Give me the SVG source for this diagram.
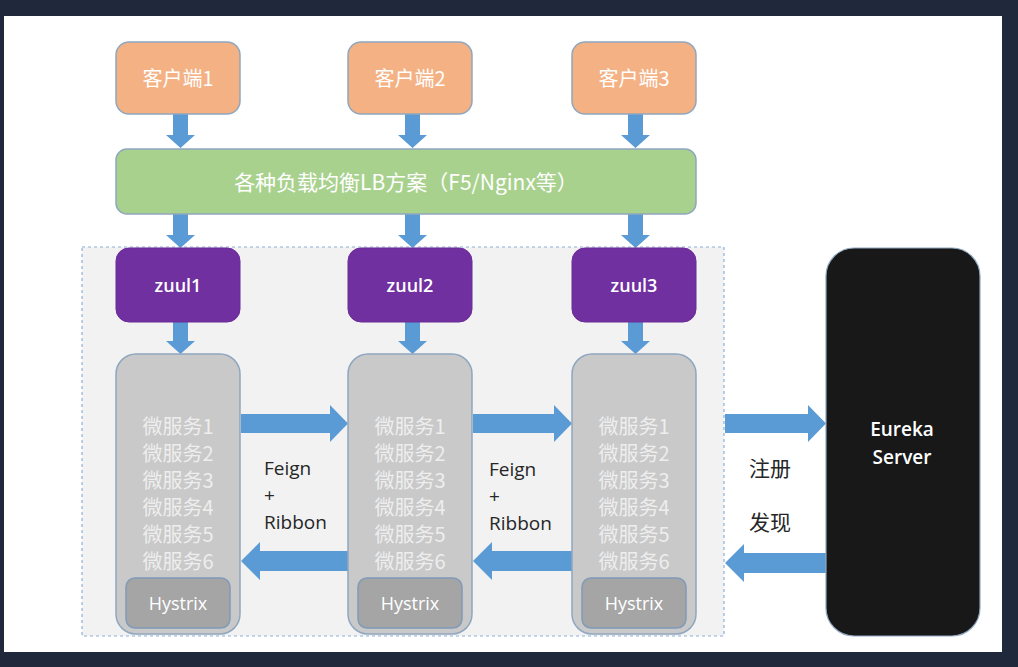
<svg xmlns="http://www.w3.org/2000/svg" width="1018" height="667" viewBox="0 0 1018 667">
<style>
.cjk{font-family:"Noto Sans CJK SC","Liberation Sans",sans-serif;}
.lat{font-family:"Open Sans","Liberation Sans",sans-serif;}
.client rect{fill:#f4b183;stroke:#8fa7bf;stroke-width:1.5;}
.zuul rect{fill:#7030a0;stroke:#6a2c98;stroke-width:1;}
.svc>rect{fill:#c9c9c9;stroke:#8fa7bf;stroke-width:1.5;}
.hys rect{fill:#a5a5a5;stroke:#7f9bb8;stroke-width:1.5;}
.wt{fill:#ffffff;}
.mt{fill:#eeeeee;font-size:20px;}
.arrow{fill:#5b9bd5;}
.dk{fill:#262626;}
</style>
<rect x="0" y="0" width="1018" height="667" fill="#1f293b"/>
<rect x="4" y="16" width="998" height="636" fill="#ffffff"/>
<rect id="cluster" x="82" y="247" width="642" height="389" fill="#f2f2f2" stroke="#8fb0d6" stroke-width="1.2" stroke-dasharray="3,3"/>

<g id="connectors" class="arrow">
  <polygon points="173,114 188,114 188,135 195,135 180.5,148 166,135 173,135"/>
  <polygon points="405,114 420,114 420,135 427,135 412.5,148 398,135 405,135"/>
  <polygon points="628,114 643,114 643,135 650,135 635.5,148 621,135 628,135"/>
  <polygon points="173,214 188,214 188,235 195,235 180.5,248 166,235 173,235"/>
  <polygon points="405,214 420,214 420,235 427,235 412.5,248 398,235 405,235"/>
  <polygon points="628,214 643,214 643,235 650,235 635.5,248 621,235 628,235"/>
  <polygon points="173,322 188,322 188,341 195,341 180.5,354 166,341 173,341"/>
  <polygon points="405,322 420,322 420,341 427,341 412.5,354 398,341 405,341"/>
  <polygon points="628,322 643,322 643,341 650,341 635.5,354 621,341 628,341"/>
  <polygon points="241,414 330,414 330,405 348,423.5 330,442 330,433 241,433"/>
  <polygon points="473,414 554,414 554,405 572,423.5 554,442 554,433 473,433"/>
  <polygon points="725,414 808,414 808,405 826,423.5 808,442 808,433 725,433"/>
  <polygon points="348,551 260,551 260,542 241,561 260,580 260,571 348,571"/>
  <polygon points="572,551 492,551 492,542 473,561 492,580 492,571 572,571"/>
  <polygon points="826,553 744,553 744,544 725,563 744,582 744,573 826,573"/>
</g>

<g id="client1" class="client"><rect x="116" y="42" width="124" height="72" rx="13"/><text x="178" y="86" text-anchor="middle" class="cjk wt" font-size="20">客户端1</text></g>
<g id="client2" class="client"><rect x="348" y="42" width="124" height="72" rx="13"/><text x="410" y="86" text-anchor="middle" class="cjk wt" font-size="20">客户端2</text></g>
<g id="client3" class="client"><rect x="572" y="42" width="124" height="72" rx="13"/><text x="634" y="86" text-anchor="middle" class="cjk wt" font-size="20">客户端3</text></g>

<g id="lb"><rect x="116" y="149" width="580" height="65" rx="11" fill="#a9d18e" stroke="#8fa7bf" stroke-width="1.5"/><text x="406" y="190" text-anchor="middle" class="cjk wt" font-size="21">各种负载均衡LB方案（F5/Nginx等）</text></g>

<g id="zuul1" class="zuul"><rect x="116" y="248" width="124" height="74" rx="13"/><text x="178" y="292" text-anchor="middle" class="lat wt" font-size="18" font-weight="600">zuul1</text></g>
<g id="zuul2" class="zuul"><rect x="348" y="248" width="124" height="74" rx="13"/><text x="410" y="292" text-anchor="middle" class="lat wt" font-size="18" font-weight="600">zuul2</text></g>
<g id="zuul3" class="zuul"><rect x="572" y="248" width="124" height="74" rx="13"/><text x="634" y="292" text-anchor="middle" class="lat wt" font-size="18" font-weight="600">zuul3</text></g>

<g id="svc1" class="svc">
  <rect x="116" y="354" width="124" height="280" rx="20"/>
  <text class="cjk mt" text-anchor="middle"><tspan x="178" y="434">微服务1</tspan><tspan x="178" y="461">微服务2</tspan><tspan x="178" y="488">微服务3</tspan><tspan x="178" y="515">微服务4</tspan><tspan x="178" y="542">微服务5</tspan><tspan x="178" y="569">微服务6</tspan></text>
  <g class="hys"><rect x="126" y="578" width="104" height="50" rx="9"/><text x="178" y="610" text-anchor="middle" class="lat wt" font-size="18">Hystrix</text></g>
</g>
<g id="svc2" class="svc">
  <rect x="348" y="354" width="124" height="280" rx="20"/>
  <text class="cjk mt" text-anchor="middle"><tspan x="410" y="434">微服务1</tspan><tspan x="410" y="461">微服务2</tspan><tspan x="410" y="488">微服务3</tspan><tspan x="410" y="515">微服务4</tspan><tspan x="410" y="542">微服务5</tspan><tspan x="410" y="569">微服务6</tspan></text>
  <g class="hys"><rect x="358" y="578" width="104" height="50" rx="9"/><text x="410" y="610" text-anchor="middle" class="lat wt" font-size="18">Hystrix</text></g>
</g>
<g id="svc3" class="svc">
  <rect x="572" y="354" width="124" height="280" rx="20"/>
  <text class="cjk mt" text-anchor="middle"><tspan x="634" y="434">微服务1</tspan><tspan x="634" y="461">微服务2</tspan><tspan x="634" y="488">微服务3</tspan><tspan x="634" y="515">微服务4</tspan><tspan x="634" y="542">微服务5</tspan><tspan x="634" y="569">微服务6</tspan></text>
  <g class="hys"><rect x="582" y="578" width="104" height="50" rx="9"/><text x="634" y="610" text-anchor="middle" class="lat wt" font-size="18">Hystrix</text></g>
</g>

<g id="label-feign1"><text class="lat dk" font-size="19"><tspan x="264" y="475">Feign</tspan><tspan x="264" y="502">+</tspan><tspan x="264" y="529">Ribbon</tspan></text></g>
<g id="label-feign2"><text class="lat dk" font-size="19"><tspan x="489" y="476">Feign</tspan><tspan x="489" y="503">+</tspan><tspan x="489" y="530">Ribbon</tspan></text></g>
<g id="label-reg"><text class="cjk dk" font-size="21"><tspan x="749" y="476">注册</tspan><tspan x="749" y="530">发现</tspan></text></g>

<g id="eureka"><rect x="826" y="248" width="154" height="388" rx="28" fill="#181818" stroke="#8fa7bf" stroke-width="1.2"/><text class="lat wt" font-size="19" font-weight="600" text-anchor="middle"><tspan x="902" y="436">Eureka</tspan><tspan x="902" y="464">Server</tspan></text></g>
</svg>
